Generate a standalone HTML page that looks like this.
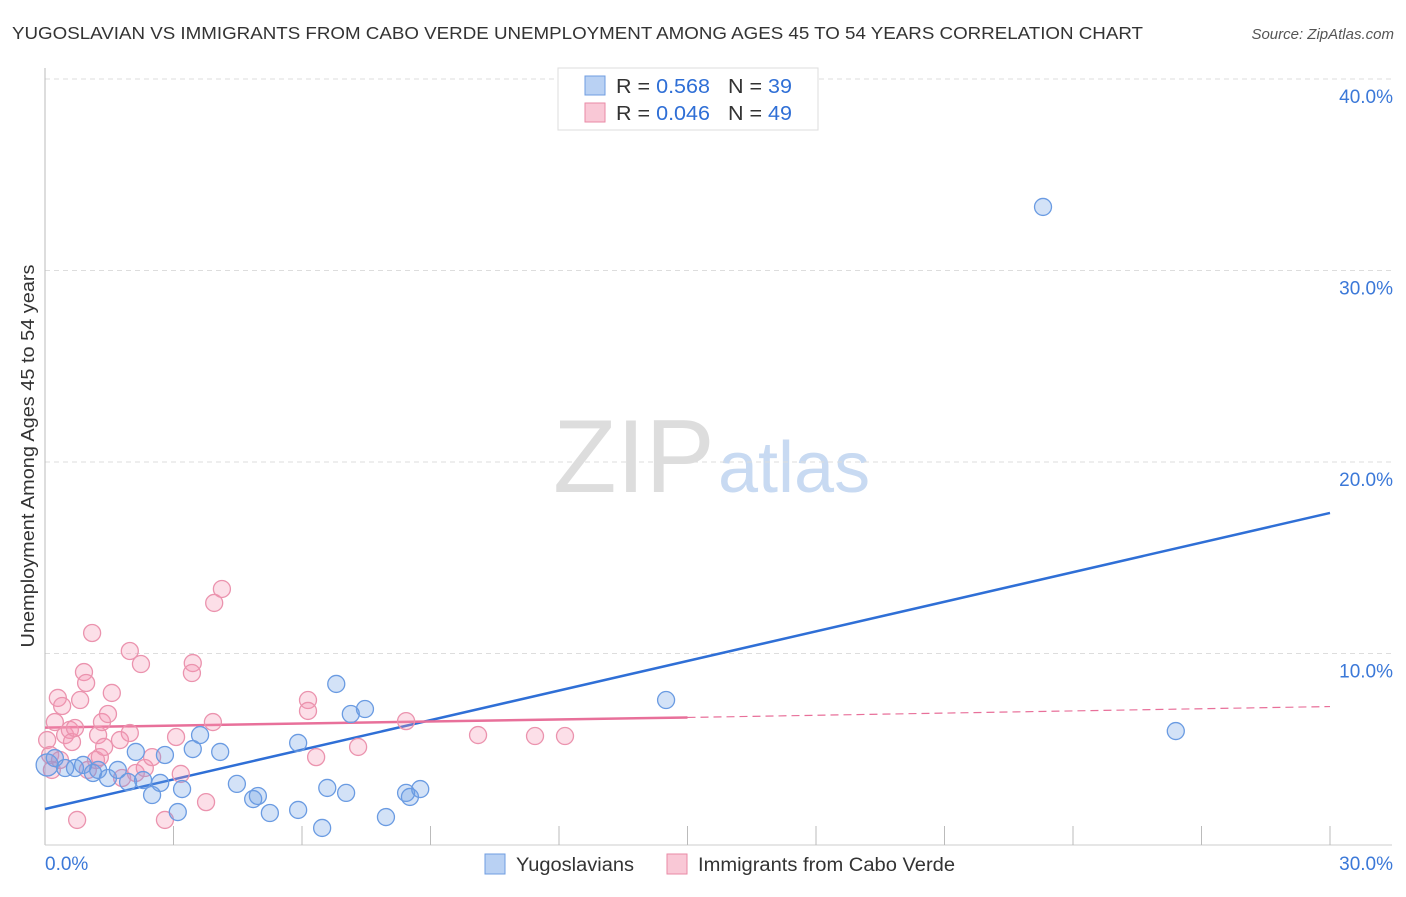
<!DOCTYPE html>
<html><head><meta charset="utf-8"><style>
body{margin:0;background:#fff;font-family:"Liberation Sans",sans-serif}
svg text{font-family:"Liberation Sans",sans-serif}
</style></head><body>
<svg id="chart" width="1406" height="892">
<text x="12" y="39" font-size="17.5" fill="#333" textLength="1131" lengthAdjust="spacingAndGlyphs">YUGOSLAVIAN VS IMMIGRANTS FROM CABO VERDE UNEMPLOYMENT AMONG AGES 45 TO 54 YEARS CORRELATION CHART</text>
<text x="1394" y="39" font-size="15" fill="#555" font-style="italic" text-anchor="end">Source: ZipAtlas.com</text>
<text x="0" y="0" transform="translate(34,456) rotate(-90)" font-size="18" fill="#333" text-anchor="middle" textLength="383" lengthAdjust="spacingAndGlyphs">Unemployment Among Ages 45 to 54 years</text>
<g><text x="553" y="492" font-size="104" fill="#ddd" font-family="Liberation Serif,serif">ZIP</text><text x="718" y="492" font-size="72" fill="#c8daf2">atlas</text></g>
<g id="grid"></g><g id="axes"></g><g id="lines"></g><g id="pts"></g>
<g>
<rect x="558" y="68" width="260" height="62" fill="#fff" stroke="#ddd"/>
<rect x="585" y="76" width="20" height="19" fill="#b9d1f3" stroke="#6f9de0"/>
<rect x="585" y="103" width="20" height="19" fill="#f9c8d6" stroke="#e98aa6"/>
<text x="616" y="93" font-size="20" fill="#333" textLength="176" lengthAdjust="spacingAndGlyphs">R = <tspan fill="#2f6fd6">0.568</tspan>&#160;&#160;&#160;N = <tspan fill="#2f6fd6">39</tspan></text>
<text x="616" y="120" font-size="20" fill="#333" textLength="176" lengthAdjust="spacingAndGlyphs">R = <tspan fill="#2f6fd6">0.046</tspan>&#160;&#160;&#160;N = <tspan fill="#2f6fd6">49</tspan></text>
</g>
<g>
<rect x="485" y="854" width="20" height="20" fill="#b9d1f3" stroke="#6f9de0"/>
<text x="516" y="871" font-size="19" fill="#333" textLength="118" lengthAdjust="spacingAndGlyphs">Yugoslavians</text>
<rect x="667" y="854" width="20" height="20" fill="#f9c8d6" stroke="#e98aa6"/>
<text x="698" y="871" font-size="19" fill="#333" textLength="257" lengthAdjust="spacingAndGlyphs">Immigrants from Cabo Verde</text>
</g>
</svg>
<script>
const yTicks=[10,20,30,40];
const yTickLabels=["10.0%","20.0%","30.0%","40.0%"];
const xTickLabels=["0.0%","30.0%"];
const blueX=[0.05,0.23,0.47,0.7,0.89,1.12,1.24,1.47,1.7,1.94,2.12,2.29,2.5,2.69,2.8,3.1,3.2,3.45,3.62,4.09,4.48,4.86,4.97,5.25,5.91,5.91,6.47,6.59,6.8,7.03,7.14,7.47,7.96,8.43,8.52,8.76,14.5,23.3,26.4];
const blueY=[4.18,4.54,4.02,4.02,4.18,3.76,3.92,3.5,3.92,3.29,4.86,3.39,2.61,3.24,4.7,1.72,2.92,5.01,5.74,4.86,3.19,2.4,2.56,1.67,5.33,1.83,0.89,2.98,8.41,2.72,6.84,7.1,1.46,2.72,2.51,2.92,7.57,33.32,5.95];
const pinkX=[0.05,0.12,0.23,0.3,0.4,0.47,0.58,0.63,0.7,0.75,0.82,0.91,0.96,1.1,1.19,1.24,1.28,1.33,1.38,1.47,1.56,1.8,1.98,1.98,2.12,2.24,2.33,2.5,2.8,3.06,3.17,3.45,3.43,3.76,3.92,3.95,4.13,6.14,6.14,6.33,7.31,8.43,10.11,11.44,12.14,0.16,0.35,1.0,1.75];
const pinkY=[5.48,4.7,6.42,7.68,7.26,5.74,6.01,5.38,6.11,1.31,7.57,9.03,8.46,11.07,4.44,5.74,4.59,6.42,5.12,6.84,7.94,3.5,5.85,10.13,3.76,9.45,4.02,4.59,1.31,5.64,3.71,9.5,8.98,2.24,6.42,12.64,13.37,7.57,7.0,4.59,5.12,6.47,5.74,5.69,5.69,3.92,4.44,3.92,5.48];
const blueFit=[1.88,17.34];
const pinkFit=[6.13,6.66,7.23];
const X=v=>45+v/30*1285, Y=v=>845-v*19.15;
const NS="http://www.w3.org/2000/svg";
function mk(p,t,a){const e=document.createElementNS(NS,t);for(const k in a)e.setAttribute(k,a[k]);document.getElementById(p).appendChild(e);return e;}
yTicks.forEach((t,i)=>{
 const l=mk('grid','line',{x1:45,x2:1392,y1:Y(t),y2:Y(t),stroke:'#ddd','stroke-dasharray':'5,4'});
 
 
 const tx=mk('grid','text',{x:1393,y:Y(t)+24,'font-size':19,fill:'#3b78d8','text-anchor':'end'});tx.textContent=yTickLabels[i];
 
 
});
let a=mk('axes','line',{x1:45,x2:45,y1:68,y2:845,stroke:'#bbb'});


a=mk('axes','line',{x1:45,x2:1392,y1:845,y2:845,stroke:'#ccc'});


for(let i=1;i<=10;i++){const t=mk('axes','line',{x1:X(i*3),x2:X(i*3),y1:826,y2:845,stroke:'#bbb'});
 
 }
let t0=mk('axes','text',{x:45,y:870,'font-size':19,fill:'#3b78d8'});t0.textContent=xTickLabels[0];


let t1=mk('axes','text',{x:1393,y:870,'font-size':19,fill:'#3b78d8','text-anchor':'end'});t1.textContent=xTickLabels[1];


pinkX.forEach((x,i)=>{const c=mk('pts','circle',{cx:X(x),cy:Y(pinkY[i]),r:8.5,fill:'rgba(245,150,180,0.3)',stroke:'#eb93ae','stroke-width':1.3});
 
 });
blueX.forEach((x,i)=>{const c=mk('pts','circle',{cx:X(x),cy:Y(blueY[i]),r:i==0?11:8.5,fill:'rgba(110,160,230,0.3)',stroke:'#6a9be2','stroke-width':1.3});
 
 });
let f=mk('lines','line',{x1:X(0),y1:Y(blueFit[0]),x2:X(30),y2:Y(blueFit[1]),stroke:'#2f6fd6','stroke-width':2.5});


f=mk('lines','line',{x1:X(0),y1:Y(pinkFit[0]),x2:X(15),y2:Y(pinkFit[1]),stroke:'#e8709a','stroke-width':2.5});


f=mk('lines','line',{x1:X(15),y1:Y(pinkFit[1]),x2:X(30),y2:Y(pinkFit[2]),stroke:'#e8709a','stroke-width':1.2,'stroke-dasharray':'8,5'});


</script>
</body></html>
